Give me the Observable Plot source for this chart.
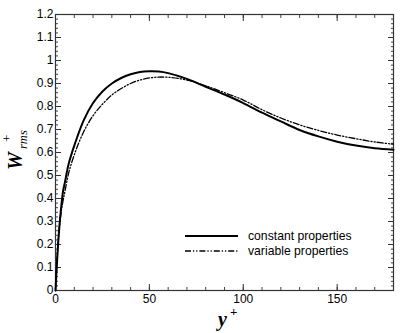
<!DOCTYPE html>
<html>
<head>
<meta charset="utf-8">
<script src="https://cdn.jsdelivr.net/npm/d3@7"></script>
<script src="https://cdn.jsdelivr.net/npm/@observablehq/plot@0.6"></script>
<style>
  html, body { margin: 0; padding: 0; background: #fff; }
  #chart svg { display: block; }
</style>
</head>
<body>
<div id="chart"></div>
<script>
// y+ positions and W_rms+ values
const yPlusConst = [0, 1, 2, 3, 4, 5, 7, 10, 15, 20, 25, 30, 35, 40, 45, 50, 55, 60, 70, 80, 90, 100, 110, 120, 130, 140, 150, 160, 170, 180];
const wConst     = [0, 0.15, 0.27, 0.36, 0.43, 0.47, 0.55, 0.63, 0.74, 0.815, 0.865, 0.9, 0.924, 0.94, 0.95, 0.953, 0.952, 0.945, 0.92, 0.886, 0.852, 0.815, 0.773, 0.735, 0.698, 0.67, 0.647, 0.63, 0.618, 0.612];
const yPlusVar   = [0, 1, 2, 3, 4, 5, 7, 10, 15, 20, 25, 30, 35, 40, 45, 50, 55, 60, 70, 80, 90, 100, 110, 120, 130, 140, 150, 160, 170, 180];
const wVar       = [0, 0.16, 0.27, 0.34, 0.39, 0.43, 0.51, 0.59, 0.69, 0.76, 0.81, 0.85, 0.878, 0.9, 0.915, 0.924, 0.928, 0.927, 0.915, 0.89, 0.86, 0.828, 0.786, 0.75, 0.72, 0.696, 0.676, 0.66, 0.646, 0.636];
const seriesNames = ["constant properties", "variable properties"];
const xMajor = [0, 50, 100, 150];
const xMinor = d3.range(0, 181, 10);
const yMajor = [0, 0.1, 0.2, 0.3, 0.4, 0.5, 0.6, 0.7, 0.8, 0.9, 1, 1.1, 1.2];
const yMinor = d3.range(0, 61).map(i => i * 0.02);

const constData = yPlusConst.map((x, i) => ({x, y: wConst[i]}));
const varData = yPlusVar.map((x, i) => ({x, y: wVar[i]}));
const legendData = seriesNames.map((name, i) => ({name, i}));

const fmt = d => String(+d.toFixed(1));
const dashDot = "6,2,1.2,2,1.2,2";

const plot = Plot.plot({
  width: 415,
  height: 333,
  marginLeft: 55,
  marginRight: 22,
  marginTop: 14,
  marginBottom: 43,
  style: {fontFamily: "'Liberation Sans', Arial, sans-serif", fontSize: "12px", color: "#000", background: "#fff"},
  x: {domain: [0, 180], label: null},
  y: {domain: [0, 1.2], label: null},
  marks: [
    // minor ticks
    Plot.axisX({anchor: "bottom", ticks: xMinor, tickSize: -3, text: null, label: null, stroke: "#444"}),
    Plot.axisX({anchor: "top", ticks: xMinor, tickSize: -3, text: null, label: null, stroke: "#444"}),
    Plot.axisY({anchor: "left", ticks: yMinor, tickSize: -3, text: null, label: null, stroke: "#444"}),
    Plot.axisY({anchor: "right", ticks: yMinor, tickSize: -3, text: null, label: null, stroke: "#444"}),
    // major ticks
    Plot.axisX({anchor: "bottom", ticks: xMajor, tickSize: -6, text: null, label: null, stroke: "#333"}),
    Plot.axisX({anchor: "top", ticks: xMajor, tickSize: -6, text: null, label: null, stroke: "#333"}),
    Plot.axisY({anchor: "left", ticks: yMajor, tickSize: -6, text: null, label: null, stroke: "#333"}),
    Plot.axisY({anchor: "right", ticks: yMajor, tickSize: -6, text: null, label: null, stroke: "#333"}),
    // labels
    Plot.axisX({anchor: "bottom", ticks: xMajor, tickSize: 0, tickPadding: 4, label: null, tickFormat: fmt, fill: "#000"}),
    Plot.axisY({anchor: "left", ticks: yMajor, tickSize: 0, tickPadding: 2, label: null, tickFormat: fmt, fill: "#000"}),
    Plot.frame({stroke: "#333", strokeWidth: 1.2}),
    Plot.line(constData, {x: "x", y: "y", stroke: "#000", strokeWidth: 2, curve: "catmull-rom"}),
    Plot.line(varData, {x: "x", y: "y", stroke: "#000", strokeWidth: 1.3, strokeDasharray: dashDot, curve: "catmull-rom"})
  ]
});

const svg = d3.select(plot);
// legend
const lg = svg.append("g").attr("text-anchor", "start");
legendData.forEach((d, i) => {
  const y = 236 + i * 15;
  lg.append("line").attr("x1", 185).attr("x2", 238).attr("y1", y).attr("y2", y)
    .attr("stroke", "#000").attr("stroke-width", i === 0 ? 2 : 1.3)
    .attr("stroke-dasharray", i === 0 ? null : dashDot);
  lg.append("text").attr("x", 248).attr("y", y).attr("dy", "0.35em").attr("text-anchor", "start")
    .attr("font-family", "'Liberation Sans', Arial, sans-serif").attr("font-size", "12.2px")
    .attr("fill", "#000").text(d.name);
});
// x label: y+
const xl = svg.append("text").attr("x", 218).attr("y", 326).attr("text-anchor", "start")
  .attr("font-family", "'Liberation Serif', 'Times New Roman', serif").attr("font-size", "20px")
  .attr("font-weight", "bold").attr("font-style", "italic").attr("fill", "#000");
xl.append("tspan").text("y");
xl.append("tspan").attr("dy", "-10").attr("dx", "3").attr("font-size", "13px").attr("font-style", "normal").text("+");
// y label: W_rms^+  (rotated frame: screen (sx, sy) -> x = -sy, y = sx)
const yl = svg.append("text").attr("transform", "rotate(-90)").attr("text-anchor", "start")
  .attr("font-family", "'Liberation Serif', 'Times New Roman', serif")
  .attr("font-style", "italic").attr("fill", "#000");
yl.append("tspan").attr("x", -170).attr("y", 22).attr("font-size", "20px").attr("font-weight", "bold").text("W");
yl.append("tspan").attr("x", -149).attr("y", 27).attr("font-size", "12.5px").text("rms");
yl.append("tspan").attr("x", -142).attr("y", 11).attr("font-size", "13px").attr("font-style", "normal").text("+");

document.getElementById("chart").appendChild(plot);
</script>
</body>
</html>
